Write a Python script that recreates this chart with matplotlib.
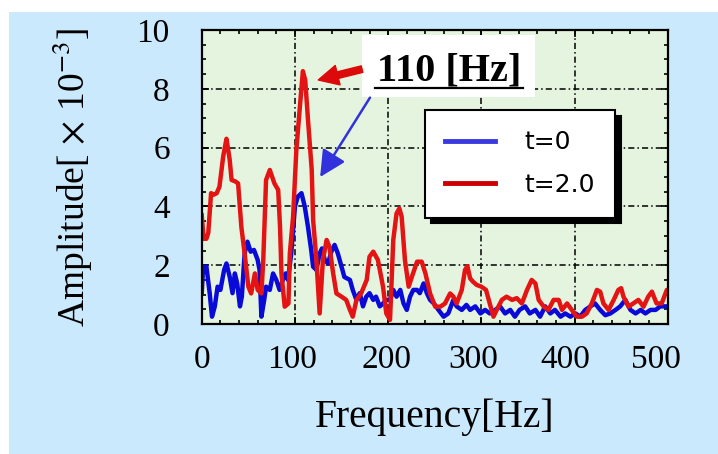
import matplotlib
matplotlib.use("Agg")
import matplotlib.pyplot as plt
import matplotlib.patches as patches
import matplotlib.transforms as mtransforms
from matplotlib.lines import Line2D
from matplotlib.ticker import MultipleLocator

# spectrum (frequency in Hz, amplitude in 1e-3)
freq_t0 = [0, 1.5, 5, 8.5, 11, 14, 17, 20, 24, 26.5, 30, 33, 35.5, 38, 41, 43,
           46, 49, 52.5, 56, 60, 62, 64, 67, 69, 73, 76.5, 80, 83.5, 87, 90,
           92.5, 96, 100, 103, 107, 110.5, 114, 117.5, 119.5, 123, 126.5, 129,
           132, 135.5, 139, 142.5, 146, 150, 153, 159, 162, 166, 169.5, 173,
           176.5, 180, 184, 187, 191, 194.5, 198, 202, 205.5, 209, 213, 216.5,
           220, 223.5, 227, 231, 234, 238, 241.5, 245, 249, 254, 259.5, 264.5,
           270, 273.5, 279, 284, 288, 293.5, 299, 304, 309, 315, 320, 325.5,
           331, 336, 341, 347, 352, 358, 363, 368.5, 374, 379, 385, 390, 395.5,
           401, 406, 411.5, 417, 422, 427.5, 433, 438.5, 444, 449, 454.5, 460,
           465.5, 471, 476, 481.5, 487, 492, 497.5, 500]
amp_t0 = [1.05, 1.95, 1.95, 1.05, 0.25, 0.6, 1.27, 1.16, 1.84, 2.06, 1.6, 1.05,
          1.72, 1.38, 0.6, 0.93, 2.4, 2.8, 2.46, 2.52, 2.18, 1.84, 0.25, 0.82,
          1.27, 1.16, 1.72, 1.5, 1.16, 1.5, 1.72, 1.5, 2.4, 4.0, 4.33, 4.45,
          4.0, 3.3, 2.5, 1.95, 1.84, 2.4, 2.57, 2.18, 2.06, 2.46, 2.69, 2.4,
          1.95, 1.6, 1.5, 1.16, 0.82, 1.05, 0.6, 0.93, 1.05, 0.82, 0.93, 0.6,
          0.7, 0.82, 0.82, 1.16, 0.93, 1.16, 0.7, 0.48, 0.93, 1.16, 1.16, 1.05,
          1.38, 1.05, 0.82, 0.7, 0.48, 0.25, 0.36, 0.82, 0.6, 0.48, 0.65, 0.48,
          0.6, 0.36, 0.48, 0.36, 0.48, 0.6, 0.36, 0.48, 0.25, 0.48, 0.6, 0.36,
          0.48, 0.25, 0.6, 0.36, 0.48, 0.25, 0.36, 0.25, 0.36, 0.25, 0.48, 0.6,
          0.7, 0.48, 0.3, 0.36, 0.48, 0.6, 0.82, 0.48, 0.36, 0.48, 0.36, 0.48,
          0.48, 0.6, 0.6, 0.6]

freq_t2 = [0, 2, 5, 7, 10, 13, 16, 19, 23, 26.5, 28, 30, 32, 36, 39, 42.5, 46,
           50, 53, 57, 60, 64, 66, 69, 73, 78, 82, 84, 85.5, 89, 93, 94.5, 98,
           101.5, 105, 108.5, 111, 114, 118, 119.5, 123, 126.5, 130, 134, 137,
           141, 144.5, 150, 155, 159, 162, 166, 171, 177, 180, 184, 189, 194.5,
           198, 202, 205.5, 209, 212, 214.5, 218, 222, 225.5, 231, 236, 240,
           245, 250.5, 256, 261, 266.5, 270, 273.5, 279, 282.5, 285, 288, 291,
           295, 300, 305, 309, 313, 316.5, 322, 327, 333, 338, 343.5, 349, 354,
           358, 361.5, 367, 372, 377.5, 383, 386.5, 392, 397, 402.5, 408, 413,
           418.5, 424, 427.5, 431, 436.5, 442, 447, 450, 452.5, 458, 463, 468.5,
           474, 479, 483, 488, 493.5, 499, 500]
amp_t2 = [3.7, 2.9, 2.9, 3.1, 4.45, 4.4, 4.45, 4.67, 5.7, 6.3, 6.0, 5.58, 4.9,
          4.85, 4.78, 3.3, 2.4, 1.27, 1.04, 1.72, 1.16, 1.04, 2.18, 4.9, 5.24,
          4.78, 4.56, 3.3, 1.72, 0.59, 0.7, 2.4, 3.65, 5.92, 7.28, 8.6, 8.3,
          6.94, 5.24, 3.54, 2.18, 0.36, 2.18, 2.86, 2.63, 1.72, 1.04, 0.93,
          0.82, 0.48, 0.25, 0.82, 1.04, 1.5, 2.29, 2.46, 2.18, 1.27, 0.36, 0.14,
          2.86, 3.76, 3.93, 3.65, 2.18, 1.27, 1.61, 2.12, 2.12, 1.72, 1.04,
          0.59, 0.59, 0.7, 1.04, 0.93, 0.7, 1.16, 1.84, 1.97, 1.55, 1.44, 1.33,
          1.27, 1.16, 0.7, 0.25, 0.48, 0.82, 0.93, 0.82, 0.88, 0.7, 1.16, 1.5,
          1.38, 0.82, 0.59, 0.48, 0.82, 0.82, 0.48, 0.7, 0.48, 0.25, 0.25, 0.36,
          0.7, 1.16, 1.1, 0.7, 0.48, 0.82, 1.16, 1.22, 0.93, 0.59, 0.7, 0.82,
          0.59, 0.93, 1.1, 0.7, 0.7, 1.16, 1.1]

series_labels = ["t=0", "t=2.0"]
x_ticks = [0, 100, 200, 300, 400, 500]
y_ticks = [0, 2, 4, 6, 8, 10]

plt.rcParams["font.family"] = "Liberation Serif"
plt.rcParams["mathtext.fontset"] = "stix"

fig = plt.figure(figsize=(7.18, 4.54), dpi=100)
fig.patch.set_facecolor("white")
fig.patches.append(patches.Rectangle((9 / 718, 0), 1, 1 - 12 / 454,
                                     transform=fig.transFigure,
                                     facecolor="#cbe9fc", edgecolor="none",
                                     zorder=-10))

ax = fig.add_axes([0.281, 0.2863, 0.649, 0.6476])
ax.set_facecolor("#e5f4df")

blue = "#0a0ad8"
red = "#e41414"
ax.plot(freq_t0, amp_t0, color=blue, lw=3.2, zorder=2)
ax.plot(freq_t2, amp_t2, color=red, lw=3.2, zorder=2)

ax.set_xlim(0, 500)
ax.set_ylim(0, 10)
ax.set_xticks(x_ticks)
ax.set_yticks(y_ticks)
ax.xaxis.set_minor_locator(MultipleLocator(20))
ax.yaxis.set_minor_locator(MultipleLocator(0.5))
ax.tick_params(which="both", direction="in", top=True, right=True,
               width=1.2, colors="black")
ax.tick_params(which="major", length=5)
ax.tick_params(which="minor", length=3)
ax.tick_params(axis="x", labelsize=24, pad=15)
ax.tick_params(axis="y", labelsize=24, pad=23)
ax.grid(True, which="major", color="black", lw=1.1,
        linestyle=(0, (4, 2, 1, 2)))
for s in ax.spines.values():
    s.set_linewidth(1.6)

# the original labels drift slightly left along the axis
shifts = [0, -3, -2, -8, -9, -12]
for tick, dx in zip(ax.xaxis.get_major_ticks(), shifts):
    off = mtransforms.ScaledTranslation(dx / 100, 0, fig.dpi_scale_trans)
    tick.label1.set_transform(tick.label1.get_transform() + off)

ax.set_xlabel("Frequency[Hz]", fontsize=28.5, labelpad=17)
ax.set_ylabel("Amplitude[$\\,\\times\\,$10$^{-3}$]", fontsize=27, labelpad=30)

# label box
ax.add_patch(patches.Rectangle((0.344, 0.772), 0.371, 0.211,
                               transform=ax.transAxes, facecolor="white",
                               edgecolor="none", zorder=3))
ax.text(0.531, 0.827, "110 [Hz]", transform=ax.transAxes, fontsize=29,
        fontweight="bold", ha="center", va="baseline", zorder=4)
ax.add_line(Line2D([0.372, 0.689], [0.803, 0.803], transform=ax.transAxes,
                   color="black", lw=1.6, zorder=4))

ax.annotate("", xy=(125, 8.3), xytext=(172, 8.67),
            arrowprops=dict(arrowstyle="simple,head_length=0.9,head_width=0.9,tail_width=0.3",
                            color="#dc0a0a", mutation_scale=16, shrinkA=0, shrinkB=0),
            zorder=5)
ax.annotate("", xy=(127, 5.0), xytext=(180.5, 7.7),
            arrowprops=dict(arrowstyle="-|>,head_length=0.8,head_width=0.4",
                            color="#3232dc", lw=1.8, mutation_scale=20,
                            shrinkA=0, shrinkB=0),
            zorder=5)

leg = ax.legend(series_labels, loc="upper left", bbox_to_anchor=(0.479, 0.728),
                prop={"family": "DejaVu Sans", "size": 18}, frameon=True,
                fancybox=False, borderpad=0.82, labelspacing=0.75,
                handlelength=2.0, handletextpad=1.15, borderaxespad=0,
                shadow={"ox": 4, "oy": -4, "color": "black", "alpha": 1})
leg.get_frame().set_edgecolor("black")
leg.get_frame().set_linewidth(1.5)
leg.get_frame().set_alpha(1)
leg.set_zorder(6)
for h, c in zip(leg.get_lines(), ["#3a3ae0", "#cc0000"]):
    h.set_color(c)
    h.set_linewidth(3.5)

fig.savefig("out.png", dpi=100)
